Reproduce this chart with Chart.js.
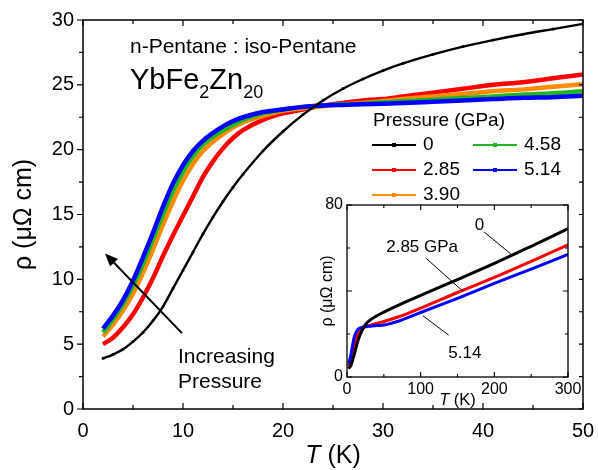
<!DOCTYPE html>
<html>
<head>
<meta charset="utf-8">
<title>YbFe2Zn20 resistivity under pressure</title>
<script src="https://cdn.jsdelivr.net/npm/chart.js@4.4.1/dist/chart.umd.min.js"></script>
<style>
  html, body { margin: 0; padding: 0; background: #fff; }
  #wrap { position: relative; width: 598px; height: 470px; }
  #main { position: absolute; left: 0; top: 0; }
  #inset { position: absolute; left: 300px; top: 190px; }
</style>
</head>
<body>
<div id="wrap">
  <canvas id="main" width="598" height="470"></canvas>
  <canvas id="inset" width="290" height="220"></canvas>
</div>
<script>
const FONT = '"Liberation Sans", Arial, Helvetica, sans-serif';

// main panel: rho (micro-ohm cm) vs T (K), 2 - 50 K
const temps = [2, 3, 4, 5, 6, 7, 8, 9, 10, 11, 12, 13, 14, 15, 16, 18, 20, 22, 24, 26, 28, 30, 32, 35, 38, 41, 44, 47, 50];
const rho0   = [3.9, 4.2, 4.6, 5.2, 5.9, 6.8, 7.9, 9.3, 10.7, 12.1, 13.5, 14.8, 16.0, 17.1, 18.1, 19.9, 21.4, 22.7, 23.8, 24.7, 25.45, 26.1, 26.65, 27.35, 27.95, 28.45, 28.9, 29.3, 29.7];
const rho285 = [5.0, 5.5, 6.3, 7.3, 8.6, 10.1, 11.8, 13.4, 14.9, 16.4, 17.9, 19.1, 20.1, 20.9, 21.5, 22.3, 22.8, 23.1, 23.4, 23.6, 23.8, 23.9, 24.1, 24.4, 24.7, 25.0, 25.2, 25.5, 25.8];
const rho390 = [5.6, 6.5, 7.6, 8.9, 10.5, 12.3, 14.2, 16.0, 17.6, 18.9, 19.9, 20.6, 21.2, 21.7, 22.1, 22.6, 23.0, 23.2, 23.35, 23.5, 23.6, 23.75, 23.9, 24.1, 24.3, 24.5, 24.65, 24.85, 25.05];
const rho458 = [5.9, 6.9, 8.1, 9.5, 11.2, 13.1, 15.0, 16.8, 18.3, 19.5, 20.4, 21.0, 21.5, 21.9, 22.3, 22.8, 23.1, 23.3, 23.4, 23.5, 23.55, 23.65, 23.75, 23.85, 24.0, 24.1, 24.25, 24.35, 24.5];
const rho514 = [6.2, 7.2, 8.4, 9.9, 11.7, 13.6, 15.6, 17.4, 18.8, 19.9, 20.7, 21.3, 21.8, 22.2, 22.5, 22.9, 23.1, 23.3, 23.4, 23.45, 23.5, 23.55, 23.6, 23.7, 23.8, 23.9, 24.0, 24.05, 24.15];
const pressures = ['0', '2.85', '3.90', '4.58', '5.14'];
const colors = ['#000000', '#ff0000', '#ff8c00', '#22b622', '#0000ff'];
const mainXTicks = [0, 10, 20, 30, 40, 50];
const mainYTicks = [0, 5, 10, 15, 20, 25, 30];

// inset: 2 - 300 K
const insetTemps = [2, 5, 10, 15, 20, 25, 30, 40, 50, 75, 100, 150, 200, 250, 300];
const insetRho0   = [3.9, 5.2, 10.7, 17.1, 21.4, 24.3, 26.1, 28.4, 30.2, 34.2, 38.0, 45.3, 52.8, 60.8, 69.0];
const insetRho285 = [5.0, 7.3, 14.9, 20.9, 22.8, 23.4, 23.9, 24.9, 25.8, 28.6, 32.0, 39.3, 46.3, 53.8, 61.5];
const insetRho514 = [6.2, 9.9, 18.8, 22.2, 23.1, 23.4, 23.55, 23.9, 24.15, 26.6, 30.0, 36.6, 43.5, 50.2, 57.0];
const insetXTicks = [0, 100, 200, 300];
const insetYTicks = [0, 80];

function pts(xs, ys) { return xs.map((t, i) => ({ x: t, y: ys[i] })); }
function fixTicks(list) { return s => { s.ticks = list.map(v => ({ value: v })); }; }
function line(ctx, x0, y0, x1, y1) { ctx.moveTo(x0, y0); ctx.lineTo(x1, y1); }
// fixed axis box, no extra room for overhanging end labels
function fitX(h) { return s => { s.height = h; s.paddingLeft = 0; s.paddingRight = 0; }; }
function fitY(w) { return s => { s.width = w; s.paddingTop = 0; s.paddingBottom = 0; }; }

// frame, ticks, titles, labels and legend of the main panel
const mainDecor = {
  id: 'mainDecor',
  afterDraw(chart) {
    const { ctx, chartArea: a, scales: { x, y } } = chart;
    ctx.save();
    ctx.strokeStyle = '#000';
    ctx.fillStyle = '#000';
    ctx.lineWidth = 1.2;
    ctx.beginPath();
    for (let t = 0; t <= 50; t += 5) {
      const px = x.getPixelForValue(t), len = t % 10 === 0 ? 6 : 4;
      line(ctx, px, a.bottom, px, a.bottom - len);
      line(ctx, px, a.top, px, a.top + len);
    }
    for (let r = 0; r <= 30; r += 2.5) {
      const py = y.getPixelForValue(r), len = r % 5 === 0 ? 6 : 4;
      line(ctx, a.left, py, a.left - len, py);
      line(ctx, a.right, py, a.right - 4, py);
    }
    ctx.stroke();
    ctx.lineWidth = 1.5;
    ctx.strokeRect(a.left, a.top, a.right - a.left, a.bottom - a.top);

    // axis titles
    ctx.textBaseline = 'middle';
    ctx.textAlign = 'left';
    ctx.font = 'italic 25px ' + FONT;
    const wT = ctx.measureText('T').width;
    ctx.font = '25px ' + FONT;
    const wK = ctx.measureText(' (K)').width;
    const tx = (a.left + a.right) / 2 - (wT + wK) / 2;
    ctx.font = 'italic 25px ' + FONT;
    ctx.fillText('T', tx, 456);
    ctx.font = '25px ' + FONT;
    ctx.fillText(' (K)', tx + wT, 456);
    ctx.save();
    ctx.translate(24, (a.top + a.bottom) / 2);
    ctx.rotate(-Math.PI / 2);
    ctx.textAlign = 'center';
    ctx.fillText('ρ (μΩ cm)', 0, 0);
    ctx.restore();

    // sample labels
    ctx.font = '21px ' + FONT;
    ctx.fillText('n-Pentane : iso-Pentane', 130, 47);
    ctx.textBaseline = 'alphabetic';
    let cx = 130;
    [['YbFe', false], ['2', true], ['Zn', false], ['20', true]].forEach(([s, sub]) => {
      ctx.font = (sub ? '18px ' : '29px ') + FONT;
      ctx.fillText(s, cx, sub ? 98 : 89);
      cx += ctx.measureText(s).width;
    });

    // increasing pressure arrow
    ctx.textBaseline = 'middle';
    ctx.font = '21px ' + FONT;
    ctx.fillText('Increasing', 178, 357);
    ctx.fillText('Pressure', 178, 382);
    const x0 = x.getPixelForValue(9.9), y0 = y.getPixelForValue(5.85);
    const x1 = x.getPixelForValue(2.2), y1 = y.getPixelForValue(12.0);
    const ang = Math.atan2(y1 - y0, x1 - x0), hl = 13, hw = 5.5;
    const bx = x1 - hl * Math.cos(ang), by = y1 - hl * Math.sin(ang);
    ctx.lineWidth = 2;
    ctx.beginPath();
    line(ctx, x0, y0, bx, by);
    ctx.stroke();
    ctx.beginPath();
    ctx.moveTo(x1, y1);
    ctx.lineTo(bx + hw * Math.sin(ang), by - hw * Math.cos(ang));
    ctx.lineTo(bx - hw * Math.sin(ang), by + hw * Math.cos(ang));
    ctx.closePath();
    ctx.fill();

    // legend
    ctx.font = '19px ' + FONT;
    ctx.fillText('Pressure (GPa)', 373, 121);
    const rowsY = [145, 170, 195];
    const colsX = [372, 473];
    chart.data.datasets.forEach((ds, i) => {
      const col = i < 3 ? 0 : 1, row = i < 3 ? i : i - 3;
      const lx = colsX[col], ly = rowsY[row];
      ctx.strokeStyle = ds.borderColor;
      ctx.fillStyle = ds.borderColor;
      ctx.lineWidth = 2;
      ctx.beginPath();
      line(ctx, lx, ly, lx + 44, ly);
      ctx.stroke();
      ctx.fillRect(lx + 20, ly - 2, 4, 4);
      ctx.fillStyle = '#000';
      ctx.fillText(ds.label, lx + 51, ly);
    });
    ctx.restore();
  }
};

new Chart(document.getElementById('main'), {
  type: 'line',
  data: {
    datasets: [rho0, rho285, rho390, rho458, rho514].map((ys, i) => ({
      label: pressures[i],
      data: pts(temps, ys),
      borderColor: colors[i],
      backgroundColor: colors[i],
      borderWidth: i === 0 ? 2.4 : 4.5,
      pointRadius: i === 0 ? 1.8 : 0,
      pointStyle: 'rect',
      pointBorderWidth: 0,
      cubicInterpolationMode: 'monotone',
      order: i === 0 ? 0 : 5 - i
    }))
  },
  options: {
    responsive: false,
    animation: false,
    devicePixelRatio: 1,
    layout: { padding: { top: 20, right: 15, left: 0, bottom: 0 } },
    plugins: { legend: { display: false }, tooltip: { enabled: false } },
    scales: {
      x: {
        type: 'linear', min: 0, max: 50,
        afterBuildTicks: fixTicks(mainXTicks),
        afterFit: fitX(61),
        grid: { display: false, drawTicks: false },
        border: { display: false },
        ticks: { padding: 10, color: '#000', maxRotation: 0, font: { family: FONT, size: 20 } }
      },
      y: {
        type: 'linear', min: 0, max: 30,
        afterBuildTicks: fixTicks(mainYTicks),
        afterFit: fitY(83),
        grid: { display: false, drawTicks: false },
        border: { display: false },
        ticks: { padding: 9, color: '#000', font: { family: FONT, size: 20 } }
      }
    }
  },
  plugins: [mainDecor]
});

// inset frame, ticks, titles and curve labels
const insetDecor = {
  id: 'insetDecor',
  afterDraw(chart) {
    const { ctx, chartArea: a, scales: { x, y } } = chart;
    ctx.save();
    ctx.strokeStyle = '#000';
    ctx.fillStyle = '#000';
    ctx.lineWidth = 1.1;
    ctx.beginPath();
    for (let t = 0; t <= 300; t += 50) {
      const px = x.getPixelForValue(t), len = t % 100 === 0 ? 5 : 3;
      line(ctx, px, a.bottom, px, a.bottom - len);
      line(ctx, px, a.top, px, a.top + len);
    }
    for (let r = 0; r <= 80; r += 20) {
      const py = y.getPixelForValue(r), len = r % 40 === 0 ? 5 : 3;
      line(ctx, a.left, py, a.left + len, py);
      line(ctx, a.right, py, a.right - len, py);
    }
    ctx.stroke();
    ctx.lineWidth = 1.3;
    ctx.strokeRect(a.left, a.top, a.right - a.left, a.bottom - a.top);

    ctx.textBaseline = 'middle';
    ctx.textAlign = 'left';
    ctx.font = 'italic 16.5px ' + FONT;
    const wT = ctx.measureText('T').width;
    ctx.font = '16.5px ' + FONT;
    const wK = ctx.measureText(' (K)').width;
    const tx = (a.left + a.right) / 2 - (wT + wK) / 2;
    ctx.font = 'italic 16.5px ' + FONT;
    ctx.fillText('T', tx, 210);
    ctx.font = '16.5px ' + FONT;
    ctx.fillText(' (K)', tx + wT, 210);
    ctx.save();
    ctx.translate(28, (a.top + a.bottom) / 2);
    ctx.rotate(-Math.PI / 2);
    ctx.textAlign = 'center';
    ctx.font = '16px ' + FONT;
    ctx.fillText('ρ (μΩ cm)', 0, 0);
    ctx.restore();

    // curve labels with leader lines
    const P = (t, r) => [x.getPixelForValue(t), y.getPixelForValue(r)];
    ctx.font = '17px ' + FONT;
    ctx.textAlign = 'center';
    [
      ['0', [180, 70.5], [186, 67.5], [225, 56.5]],
      ['2.85 GPa', [102, 60.5], [108, 55], [157, 40]],
      ['5.14', [160, 11], [103, 28.5], [138, 19.5]]
    ].forEach(([txt, at, from, to]) => {
      const [px, py] = P(at[0], at[1]);
      ctx.fillText(txt, px, py);
      const [ax, ay] = P(from[0], from[1]);
      const [bx, by] = P(to[0], to[1]);
      ctx.lineWidth = 1;
      ctx.beginPath();
      line(ctx, ax, ay, bx, by);
      ctx.stroke();
    });
    ctx.restore();
  }
};

new Chart(document.getElementById('inset'), {
  type: 'line',
  data: {
    datasets: [
      { label: '0', data: pts(insetTemps, insetRho0), borderColor: colors[0], order: 0 },
      { label: '2.85', data: pts(insetTemps, insetRho285), borderColor: colors[1], order: 2 },
      { label: '5.14', data: pts(insetTemps, insetRho514), borderColor: colors[4], order: 1 }
    ].map(ds => Object.assign(ds, { borderWidth: 3, pointRadius: 0, cubicInterpolationMode: 'monotone' }))
  },
  options: {
    responsive: false,
    animation: false,
    devicePixelRatio: 1,
    layout: { padding: { top: 15, right: 22, left: 0, bottom: 0 } },
    plugins: { legend: { display: false }, tooltip: { enabled: false } },
    scales: {
      x: {
        type: 'linear', min: 0, max: 300,
        afterBuildTicks: fixTicks(insetXTicks),
        afterFit: fitX(33),
        grid: { display: false, drawTicks: false },
        border: { display: false },
        ticks: { padding: 3, color: '#000', maxRotation: 0, font: { family: FONT, size: 16 } }
      },
      y: {
        type: 'linear', min: 0, max: 80,
        afterBuildTicks: fixTicks(insetYTicks),
        afterFit: fitY(47),
        grid: { display: false, drawTicks: false },
        border: { display: false },
        ticks: { padding: 4, color: '#000', font: { family: FONT, size: 16 } }
      }
    }
  },
  plugins: [insetDecor]
});
</script>
</body>
</html>
